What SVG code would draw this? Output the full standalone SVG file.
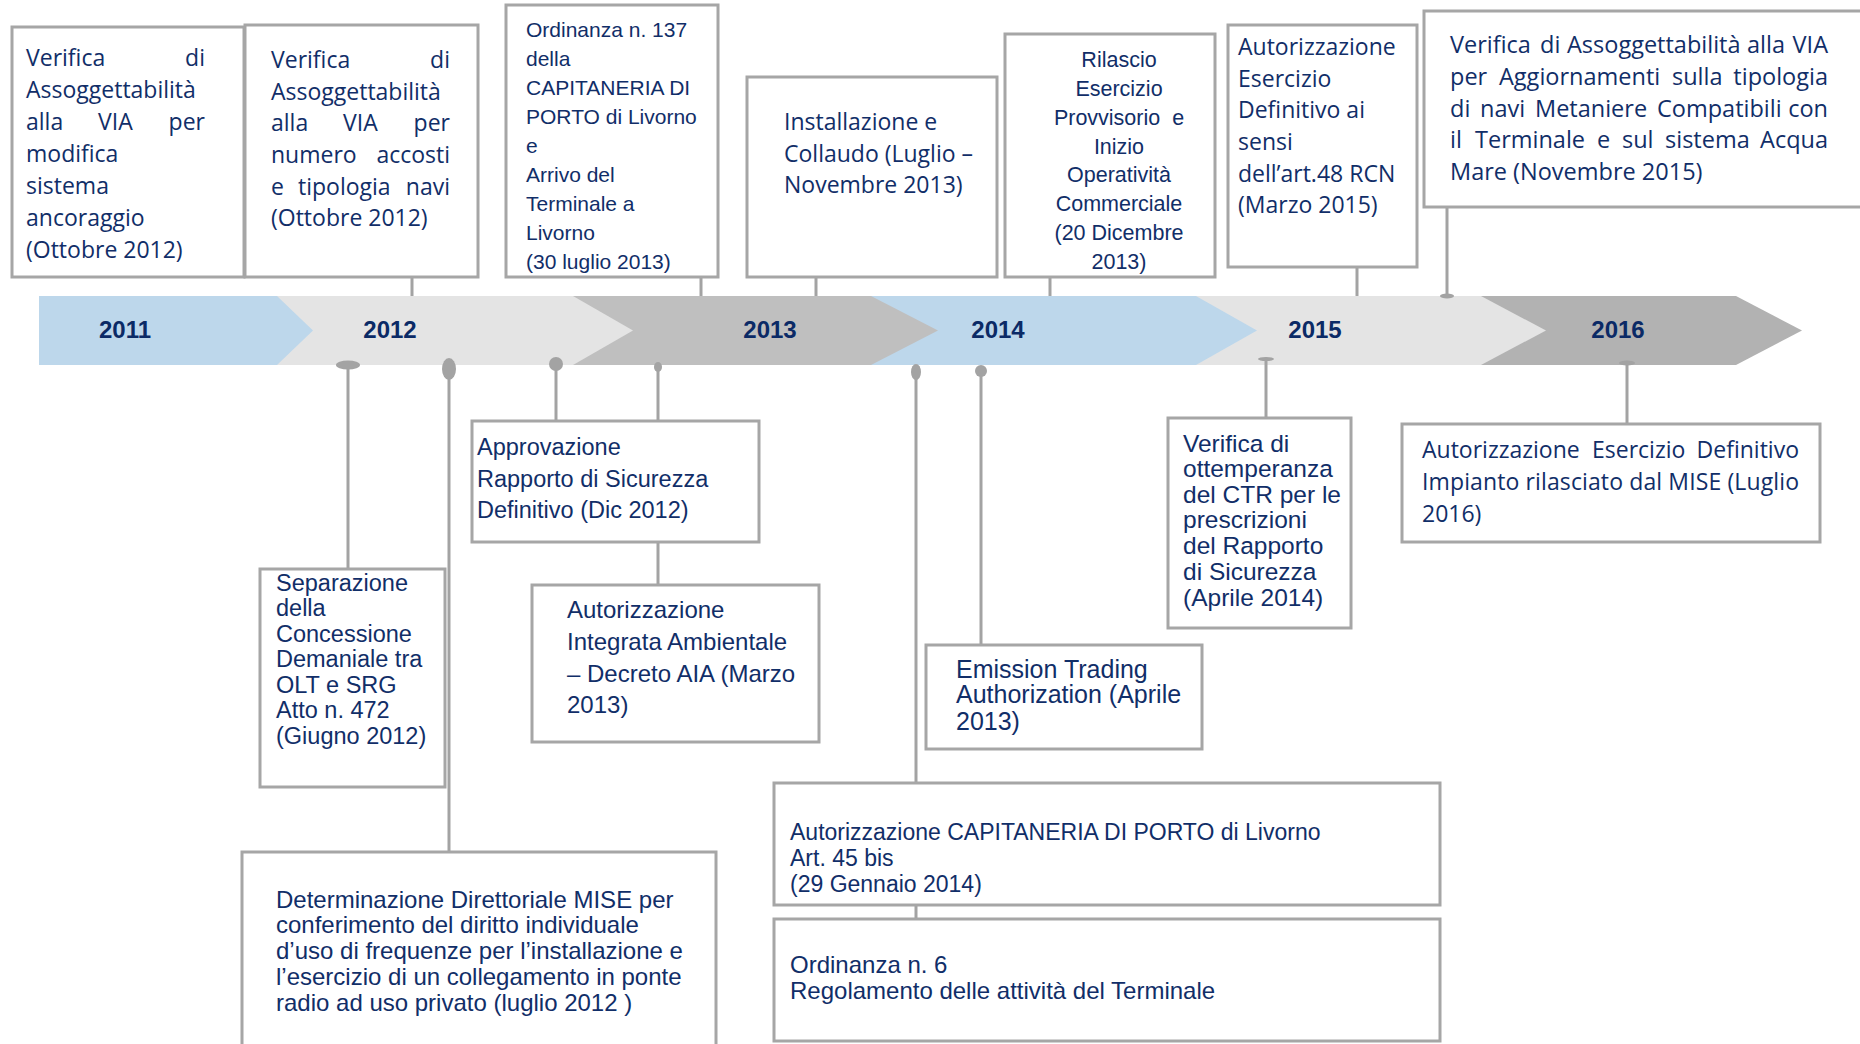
<svg xmlns="http://www.w3.org/2000/svg" width="1860" height="1044" viewBox="0 0 1860 1044">
<style>
.bg{fill:#ffffff}
.box{fill:#ffffff;stroke:#A6A6A6;stroke-width:3}
.conn line{stroke:#A3A3A3;stroke-width:3}
.pin{fill:#A3A3A3}
.yr{font-family:"Liberation Sans",Arial,sans-serif;font-weight:bold;font-size:24px;fill:#0B2A66;text-anchor:middle}
.os{font-family:"Open Sans","Noto Sans",sans-serif;font-size:23px;fill:#112E68}
.cb{font-family:"Liberation Sans",Arial,sans-serif;fill:#112E68}
.e{text-anchor:end}
.m{text-anchor:middle}
</style>
<rect class="bg" x="0" y="0" width="1860" height="1044"/>

<g id="timeline">
<polygon points="1380,296 1736,296 1802,330.5 1736,365 1380,365" fill="#B2B2B2"/>
<polygon points="1150,296 1481,296 1546,330.5 1481,365 1150,365" fill="#E4E4E4"/>
<polygon points="830,296 1196,296 1257,330.5 1196,365 830,365" fill="#BDD7EB"/>
<polygon points="540,296 871,296 938,330.5 871,365 540,365" fill="#BFBFBF"/>
<polygon points="200,296 573,296 633,330.5 573,365 200,365" fill="#E4E4E4"/>
<polygon points="39,296 277,296 313,330.5 277,365 39,365" fill="#BDD7EB"/>
<text class="yr" x="125" y="338">2011</text>
<text class="yr" x="390" y="338">2012</text>
<text class="yr" x="770" y="338">2013</text>
<text class="yr" x="998" y="338">2014</text>
<text class="yr" x="1315" y="338">2015</text>
<text class="yr" x="1618" y="338">2016</text>
</g>

<g id="connectors" class="conn">
<line x1="412" y1="277" x2="412" y2="296"/>
<line x1="701" y1="277" x2="701" y2="296"/>
<line x1="816" y1="277" x2="816" y2="296"/>
<line x1="1050" y1="277" x2="1050" y2="296"/>
<line x1="1357" y1="267" x2="1357" y2="296"/>
<line x1="1447" y1="207" x2="1447" y2="296"/>
<line x1="348" y1="365" x2="348" y2="569"/>
<line x1="449" y1="369" x2="449" y2="852"/>
<line x1="556" y1="364" x2="556" y2="421"/>
<line x1="658" y1="365" x2="658" y2="585"/>
<line x1="916" y1="372" x2="916" y2="919"/>
<line x1="981" y1="371" x2="981" y2="645"/>
<line x1="1266" y1="359" x2="1266" y2="418"/>
<line x1="1627" y1="363" x2="1627" y2="424"/>
<ellipse class="pin" cx="1447" cy="296" rx="7" ry="2.5"/>
<ellipse class="pin" cx="348" cy="365" rx="12" ry="4.5"/>
<ellipse class="pin" cx="449" cy="369" rx="7" ry="11"/>
<circle class="pin" cx="556" cy="364" r="7"/>
<ellipse class="pin" cx="658" cy="367" rx="4" ry="5"/>
<ellipse class="pin" cx="916" cy="372" rx="5" ry="8"/>
<circle class="pin" cx="981" cy="371" r="6"/>
<ellipse class="pin" cx="1266" cy="359" rx="8" ry="2"/>
<ellipse class="pin" cx="1627" cy="363" rx="8" ry="2.5"/>
</g>

<g id="box1">
<rect class="box" x="12" y="27" width="232" height="250"/>
<text class="os" x="26" y="66">Verifica</text><text class="os e" x="205" y="66">di</text>
<text class="os" x="26" y="98">Assoggettabilità</text>
<text class="os" x="26" y="130">alla</text><text class="os" x="98" y="130">VIA</text><text class="os e" x="205" y="130">per</text>
<text class="os" x="26" y="162">modifica</text>
<text class="os" x="26" y="194">sistema</text>
<text class="os" x="26" y="226">ancoraggio</text>
<text class="os" x="26" y="258">(Ottobre 2012)</text>
</g>

<g id="box2">
<rect class="box" x="245" y="25" width="233" height="252"/>
<text class="os" x="271" y="68">Verifica</text><text class="os e" x="450" y="68">di</text>
<text class="os" x="271" y="100">Assoggettabilità</text>
<text class="os" x="271" y="131">alla</text><text class="os" x="343" y="131">VIA</text><text class="os e" x="450" y="131">per</text>
<text class="os" x="271" y="163">numero</text><text class="os e" x="450" y="163">accosti</text>
<text class="os" x="271" y="195">e</text><text class="os" x="298" y="195">tipologia</text><text class="os e" x="450" y="195">navi</text>
<text class="os" x="271" y="226">(Ottobre 2012)</text>
</g>

<g id="box3" class="cb" font-size="21">
<rect class="box" x="506" y="5" width="212" height="272"/>
<text x="526" y="37">Ordinanza n. 137</text>
<text x="526" y="66">della</text>
<text x="526" y="95">CAPITANERIA DI</text>
<text x="526" y="124">PORTO di Livorno</text>
<text x="526" y="153">e</text>
<text x="526" y="182">Arrivo del</text>
<text x="526" y="211">Terminale a</text>
<text x="526" y="240">Livorno</text>
<text x="526" y="269">(30 luglio 2013)</text>
</g>

<g id="box4">
<rect class="box" x="747" y="77" width="250" height="200"/>
<text class="os" x="784" y="130">Installazione e</text>
<text class="os" x="784" y="162">Collaudo (Luglio –</text>
<text class="os" x="784" y="193">Novembre 2013)</text>
</g>

<g id="box5" class="cb" font-size="21.5" text-anchor="middle">
<rect class="box" x="1005" y="34" width="210" height="243"/>
<text x="1119" y="67">Rilascio</text>
<text x="1119" y="96">Esercizio</text>
<text x="1119" y="125" xml:space="preserve">Provvisorio  e</text>
<text x="1119" y="154">Inizio</text>
<text x="1119" y="182">Operatività</text>
<text x="1119" y="211">Commerciale</text>
<text x="1119" y="240">(20 Dicembre</text>
<text x="1119" y="269">2013)</text>
</g>

<g id="box6">
<rect class="box" x="1228" y="25" width="189" height="242"/>
<text class="os" x="1238" y="55">Autorizzazione</text>
<text class="os" x="1238" y="87">Esercizio</text>
<text class="os" x="1238" y="118">Definitivo ai</text>
<text class="os" x="1238" y="150">sensi</text>
<text class="os" x="1238" y="182">dell’art.48 RCN</text>
<text class="os" x="1238" y="213">(Marzo 2015)</text>
</g>

<g id="box7" font-size="23.5">
<rect class="box" x="1424" y="11" width="450" height="196"/>
<text class="os" style="font-size:23.5px" x="1450" y="53">Verifica</text>
<text class="os" style="font-size:23.5px" x="1540" y="53">di</text>
<text class="os" style="font-size:23.5px" x="1567" y="53">Assoggettabilità</text>
<text class="os" style="font-size:23.5px" x="1747" y="53">alla</text>
<text class="os e" style="font-size:23.5px" x="1828" y="53">VIA</text>
<text class="os" style="font-size:23.5px" x="1450" y="85">per</text>
<text class="os" style="font-size:23.5px" x="1499" y="85">Aggiornamenti</text>
<text class="os" style="font-size:23.5px" x="1672" y="85">sulla</text>
<text class="os e" style="font-size:23.5px" x="1828" y="85">tipologia</text>
<text class="os" style="font-size:23.5px" x="1450" y="117">di</text>
<text class="os" style="font-size:23.5px" x="1480" y="117">navi</text>
<text class="os" style="font-size:23.5px" x="1535" y="117">Metaniere</text>
<text class="os" style="font-size:23.5px" x="1657" y="117">Compatibili</text>
<text class="os e" style="font-size:23.5px" x="1828" y="117">con</text>
<text class="os" style="font-size:23.5px" x="1450" y="148">il</text>
<text class="os" style="font-size:23.5px" x="1475" y="148">Terminale</text>
<text class="os" style="font-size:23.5px" x="1597" y="148">e</text>
<text class="os" style="font-size:23.5px" x="1622" y="148">sul</text>
<text class="os" style="font-size:23.5px" x="1665" y="148">sistema</text>
<text class="os e" style="font-size:23.5px" x="1828" y="148">Acqua</text>
<text class="os" style="font-size:23.5px" x="1450" y="180">Mare (Novembre 2015)</text>
</g>

<g id="boxB1" class="cb" font-size="23.5">
<rect class="box" x="260" y="569" width="185" height="218"/>
<text x="276" y="591">Separazione</text>
<text x="276" y="616">della</text>
<text x="276" y="642">Concessione</text>
<text x="276" y="667">Demaniale tra</text>
<text x="276" y="693">OLT e SRG</text>
<text x="276" y="718">Atto n. 472</text>
<text x="276" y="744">(Giugno 2012)</text>
</g>

<g id="boxB2" class="cb" font-size="23.5">
<rect class="box" x="472" y="421" width="287" height="121"/>
<text x="477" y="455">Approvazione</text>
<text x="477" y="487">Rapporto di Sicurezza</text>
<text x="477" y="518">Definitivo (Dic 2012)</text>
</g>

<g id="boxB3" class="cb" font-size="24">
<rect class="box" x="532" y="585" width="287" height="157"/>
<text x="567" y="618">Autorizzazione</text>
<text x="567" y="650">Integrata Ambientale</text>
<text x="567" y="682">– Decreto AIA (Marzo</text>
<text x="567" y="713">2013)</text>
</g>

<g id="boxB4" class="cb" font-size="24.5">
<rect class="box" x="1168" y="418" width="183" height="210"/>
<text x="1183" y="452">Verifica di</text>
<text x="1183" y="477">ottemperanza</text>
<text x="1183" y="503">del CTR per le</text>
<text x="1183" y="528">prescrizioni</text>
<text x="1183" y="554">del Rapporto</text>
<text x="1183" y="580">di Sicurezza</text>
<text x="1183" y="606">(Aprile 2014)</text>
</g>

<g id="boxB5" class="cb" font-size="25">
<rect class="box" x="926" y="645" width="276" height="104"/>
<text x="956" y="678">Emission Trading</text>
<text x="956" y="703">Authorization (Aprile</text>
<text x="956" y="730">2013)</text>
</g>

<g id="boxB6">
<rect class="box" x="1402" y="424" width="418" height="118"/>
<text class="os" x="1422" y="458">Autorizzazione</text>
<text class="os" x="1592" y="458">Esercizio</text>
<text class="os e" x="1799" y="458">Definitivo</text>
<text class="os" x="1422" y="490" textLength="377" lengthAdjust="spacing">Impianto rilasciato dal MISE (Luglio</text>
<text class="os" x="1422" y="522">2016)</text>
</g>

<g id="boxB7" class="cb" font-size="23">
<rect class="box" x="774" y="783" width="666" height="122"/>
<text x="790" y="840">Autorizzazione CAPITANERIA DI PORTO di Livorno</text>
<text x="790" y="866">Art. 45 bis</text>
<text x="790" y="892">(29 Gennaio 2014)</text>
</g>

<g id="boxB8" class="cb" font-size="24">
<rect class="box" x="774" y="919" width="666" height="122"/>
<text x="790" y="973">Ordinanza n. 6</text>
<text x="790" y="999">Regolamento delle attività del Terminale</text>
</g>

<g id="boxB9" class="cb" font-size="24">
<rect class="box" x="242" y="852" width="474" height="210"/>
<text x="276" y="908">Determinazione Direttoriale MISE per</text>
<text x="276" y="933">conferimento del diritto individuale</text>
<text x="276" y="959">d’uso di frequenze per l’installazione e</text>
<text x="276" y="985">l’esercizio di un collegamento in ponte</text>
<text x="276" y="1011">radio ad uso privato (luglio 2012 )</text>
</g>
</svg>
